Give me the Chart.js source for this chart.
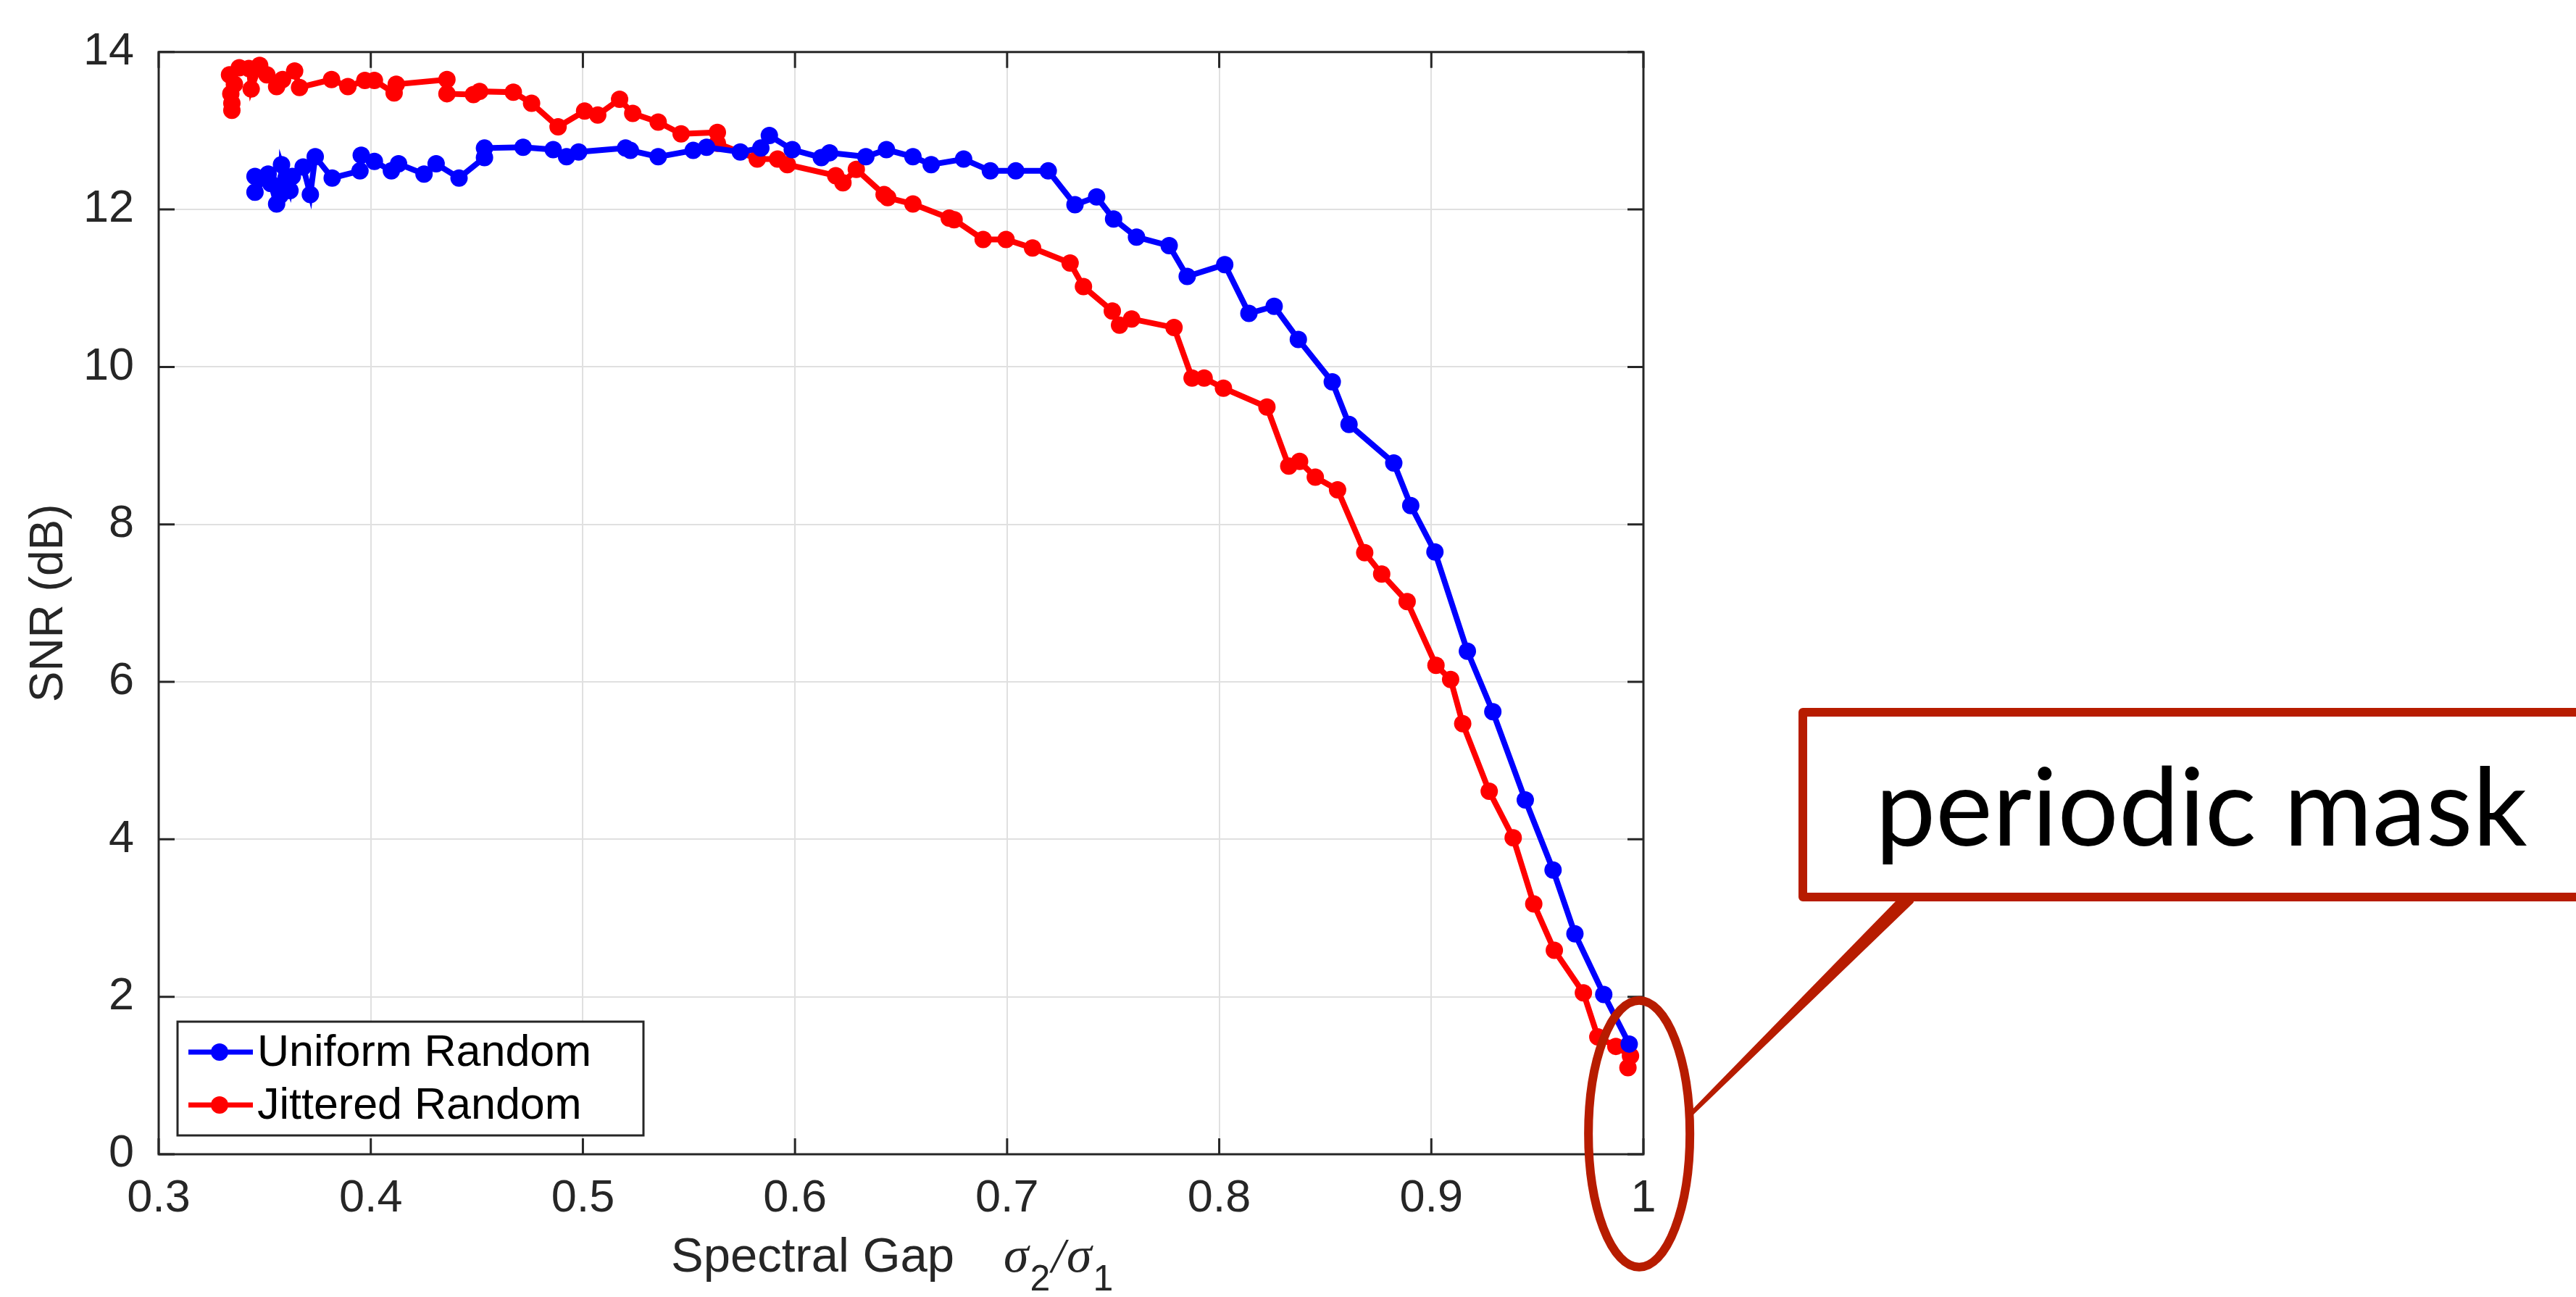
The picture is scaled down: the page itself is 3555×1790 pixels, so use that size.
<!DOCTYPE html>
<html>
<head>
<meta charset="utf-8">
<title>SNR vs Spectral Gap</title>
<script src="https://cdn.jsdelivr.net/npm/chart.js@4.4.0/dist/chart.umd.min.js"></script>
<style>
body{margin:0;background:#fff;}
#contenedor{width:3555px;height:1790px;position:relative;}
</style>
</head>
<body>
<div id="contenedor"><canvas id="myChart"></canvas></div>
<script>
//-------------datos-----------------//
const uniformGap = [0.3454,0.3454,0.3516,0.3528,0.3556,0.3573,0.3579,0.3600,0.3619,0.3630,0.3681,0.3715,0.3738,0.3818,0.3949,0.3955,0.4017,0.4097,0.4131,0.4251,0.4308,0.4416,0.4536,0.4536,0.4718,0.4860,0.4923,0.4980,0.5201,0.5224,0.5355,0.5520,0.5583,0.5742,0.5839,0.5879,0.5987,0.6124,0.6163,0.6334,0.6431,0.6556,0.6642,0.6795,0.6921,0.7041,0.7194,0.7320,0.7422,0.7502,0.7610,0.7764,0.7849,0.8026,0.8140,0.8259,0.8373,0.8533,0.8612,0.8823,0.8903,0.9017,0.9170,0.9290,0.9443,0.9574,0.9677,0.9813,0.9933];
const uniformSnr = [12.42,12.22,12.45,12.33,12.07,12.18,12.57,12.40,12.24,12.42,12.54,12.19,12.67,12.40,12.49,12.69,12.61,12.49,12.58,12.45,12.58,12.40,12.66,12.78,12.79,12.76,12.67,12.73,12.78,12.75,12.67,12.75,12.79,12.73,12.78,12.94,12.76,12.66,12.72,12.67,12.76,12.67,12.57,12.64,12.49,12.49,12.49,12.06,12.16,11.88,11.65,11.54,11.15,11.30,10.68,10.77,10.35,9.81,9.27,8.78,8.24,7.65,6.39,5.62,4.50,3.61,2.80,2.03,1.40];

const jitteredGap = [0.3345,0.3345,0.3340,0.3357,0.3334,0.3380,0.3425,0.3436,0.3476,0.3510,0.3556,0.3584,0.3641,0.3664,0.3815,0.3892,0.3972,0.4017,0.4110,0.4120,0.4359,0.4359,0.4484,0.4513,0.4672,0.4758,0.4883,0.5008,0.5070,0.5173,0.5235,0.5355,0.5463,0.5634,0.5634,0.5822,0.5918,0.5964,0.6192,0.6226,0.6289,0.6420,0.6437,0.6556,0.6727,0.6750,0.6887,0.6995,0.7120,0.7297,0.7360,0.7496,0.7530,0.7587,0.7787,0.7872,0.7929,0.8020,0.8225,0.8328,0.8379,0.8453,0.8558,0.8686,0.8766,0.8886,0.9022,0.9091,0.9148,0.9273,0.9386,0.9483,0.9580,0.9717,0.9785,0.9870,0.9939,0.9927];
const jitteredSnr = [13.26,13.35,13.47,13.59,13.71,13.80,13.79,13.53,13.83,13.71,13.56,13.65,13.76,13.55,13.65,13.56,13.64,13.64,13.48,13.59,13.65,13.47,13.46,13.50,13.49,13.35,13.05,13.25,13.20,13.40,13.22,13.11,12.96,12.98,12.84,12.64,12.64,12.57,12.43,12.34,12.51,12.19,12.15,12.07,11.89,11.87,11.62,11.62,11.51,11.32,11.02,10.71,10.53,10.61,10.50,9.86,9.86,9.73,9.49,8.74,8.80,8.60,8.44,7.64,7.37,7.02,6.21,6.03,5.47,4.61,4.02,3.18,2.59,2.05,1.49,1.37,1.25,1.10];

const xTicks = [0.3,0.4,0.5,0.6,0.7,0.8,0.9,1];
const yTicks = [0,2,4,6,8,10,12,14];
const serieNames = ['Uniform Random','Jittered Random'];
const xLabel = 'Spectral Gap';
const yLabel = 'SNR (dB)';
const noteText = 'periodic mask';
//-----------------------------------//

const FUENTE = '"Liberation Sans", Arial, Helvetica, sans-serif';
const GRIS = '#262626';
Chart.defaults.font.family = FUENTE;
Chart.defaults.color = GRIS;

function armaPuntos(xs, ys){
	var pts = [];
	for (var i = 0; i < xs.length; i++) {
		pts.push({x: xs[i], y: ys[i]});
	}
	return pts;
}

// caja de ejes y marcas hacia dentro (estilo matlab)
function dibujaEjes(chart){
	const ctx = chart.ctx;
	const a = chart.chartArea;
	const sx = chart.scales.x, sy = chart.scales.y;
	const largo = 22;
	ctx.save();
	ctx.strokeStyle = GRIS;
	ctx.lineWidth = 3;
	ctx.beginPath();
	for (var i in xTicks) {
		var px = sx.getPixelForValue(xTicks[i]);
		ctx.moveTo(px, a.bottom); ctx.lineTo(px, a.bottom - largo);
		ctx.moveTo(px, a.top); ctx.lineTo(px, a.top + largo);
	}
	for (var k in yTicks) {
		var py = sy.getPixelForValue(yTicks[k]);
		ctx.moveTo(a.left, py); ctx.lineTo(a.left + largo, py);
		ctx.moveTo(a.right, py); ctx.lineTo(a.right - largo, py);
	}
	ctx.stroke();
	ctx.strokeRect(a.left, a.top, a.right - a.left, a.bottom - a.top);
	ctx.restore();
}

function dibujaLeyenda(chart){
	const ctx = chart.ctx;
	const x0 = 245, y0 = 1410, w = 643, h = 157;
	ctx.save();
	ctx.fillStyle = '#fff';
	ctx.fillRect(x0, y0, w, h);
	ctx.strokeStyle = GRIS;
	ctx.lineWidth = 3;
	ctx.strokeRect(x0, y0, w, h);
	chart.data.datasets.forEach(function(ds, i){
		var yy = y0 + 42 + i * 73;
		ctx.strokeStyle = ds.borderColor;
		ctx.lineWidth = 7;
		ctx.beginPath(); ctx.moveTo(x0 + 15, yy); ctx.lineTo(x0 + 104, yy); ctx.stroke();
		ctx.fillStyle = ds.borderColor;
		ctx.beginPath(); ctx.arc(x0 + 58, yy, 12, 0, Math.PI * 2); ctx.fill();
		ctx.fillStyle = '#000';
		ctx.font = '61px ' + FUENTE;
		ctx.textBaseline = 'middle';
		ctx.fillText(ds.label, x0 + 110, yy + 2);
	});
	ctx.restore();
}

// etiqueta x con sigma_2/sigma_1
function dibujaEtiquetaX(chart){
	const ctx = chart.ctx;
	const base = 1755;
	ctx.save();
	ctx.fillStyle = GRIS;
	ctx.textBaseline = 'alphabetic';
	ctx.font = '67px ' + FUENTE;
	ctx.fillText(xLabel, 926, base);
	var partes = [
		['\u03c3', 'italic 70px "Liberation Serif", serif', 0],
		['2', '50px ' + FUENTE, 26],
		['/', 'italic 67px "Liberation Serif", serif', 0],
		['\u03c3', 'italic 70px "Liberation Serif", serif', 0],
		['1', '50px ' + FUENTE, 26]
	];
	var x = 1385;
	for (var p in partes) {
		ctx.font = partes[p][1];
		ctx.fillText(partes[p][0], x, base + partes[p][2]);
		x += ctx.measureText(partes[p][0]).width + 2;
	}
	ctx.restore();
}

// globo "periodic mask" y elipse sobre la mascara periodica
function dibujaNota(chart){
	const ctx = chart.ctx;
	const cx = chart.scales.x.getPixelForValue(0.998);
	const cy = chart.scales.y.getPixelForValue(0.26);
	const rojo = '#b71c00';
	ctx.save();
	ctx.strokeStyle = rojo;
	ctx.fillStyle = rojo;
	ctx.lineWidth = 12;
	ctx.beginPath();
	ctx.ellipse(cx, cy, 70, 184, 0, 0, Math.PI * 2);
	ctx.stroke();

	// cola del globo (cuña fina)
	ctx.lineWidth = 6;
	ctx.lineJoin = 'round';
	ctx.beginPath();
	ctx.moveTo(2620, 1244);
	ctx.lineTo(2638, 1244);
	ctx.lineTo(cx + 70, cy - 26);
	ctx.closePath();
	ctx.fill();
	ctx.stroke();

	ctx.lineWidth = 12;
	ctx.fillStyle = '#fff';
	ctx.fillRect(2488, 983, 1200, 255);
	ctx.strokeRect(2488, 983, 1200, 255);

	ctx.fillStyle = '#000';
	ctx.textBaseline = 'alphabetic';
	var tam = 160;
	ctx.font = tam + 'px Lato, "Open Sans", sans-serif';
	var ancho = ctx.measureText(noteText).width;
	tam = tam * 900 / ancho;
	ctx.font = tam + 'px Lato, "Open Sans", sans-serif';
	ctx.fillText(noteText, 2588, 1167);
	ctx.restore();
}

const pluginMatlab = {
	id: 'matlab',
	afterDatasetsDraw: function(chart){
		dibujaEjes(chart);
	},
	afterDraw: function(chart){
		dibujaLeyenda(chart);
		dibujaEtiquetaX(chart);
		dibujaNota(chart);
	}
};

function creargraf(){
	const ctx = document.getElementById('myChart').getContext('2d');
	const myChart = new Chart(ctx, {
		type: 'line',
		data: {
			datasets: [{
				label: serieNames[0],
				data: armaPuntos(uniformGap, uniformSnr),
				borderColor: '#0000ff',
				backgroundColor: '#0000ff',
				borderWidth: 8,
				pointRadius: 12,
				pointBorderWidth: 0,
				pointBackgroundColor: '#0000ff'
			},{
				label: serieNames[1],
				data: armaPuntos(jitteredGap, jitteredSnr),
				borderColor: '#ff0000',
				backgroundColor: '#ff0000',
				borderWidth: 8,
				pointRadius: 12,
				pointBorderWidth: 0,
				pointBackgroundColor: '#ff0000'
			}]
		},
		options: {
			responsive: true,
			maintainAspectRatio: false,
			animation: false,
			devicePixelRatio: 1,
			layout: {padding: {left: 0, top: 45, right: 1287, bottom: 0}},
			elements: {line: {tension: 0}},
			plugins: {
				legend: {display: false},
				tooltip: {enabled: false}
			},
			scales: {
				x: {
					type: 'linear',
					min: 0.3,
					max: 1,
					afterBuildTicks: function(s){ s.ticks = xTicks.map(function(v){ return {value: v}; }); },
					afterFit: function(s){ s.height = 197; },
					grid: {color: '#e0e0e0', lineWidth: 2, drawTicks: false},
					border: {display: false},
					ticks: {
						font: {size: 63},
						color: GRIS,
						padding: 24,
						maxRotation: 0,
						callback: function(v){ return String(v); }
					}
				},
				y: {
					type: 'linear',
					min: 0,
					max: 14,
					afterBuildTicks: function(s){ s.ticks = yTicks.map(function(v){ return {value: v}; }); },
					afterFit: function(s){ s.width = 219; },
					grid: {color: '#e0e0e0', lineWidth: 2, drawTicks: false},
					border: {display: false},
					ticks: {
						font: {size: 63},
						color: GRIS,
						padding: 34,
						callback: function(v){ return String(v); }
					},
					title: {
						display: true,
						text: yLabel,
						font: {size: 64},
						color: GRIS,
						padding: {top: 30, bottom: 0}
					}
				}
			}
		},
		plugins: [pluginMatlab]
	});
	return myChart;
}

window.onload = function(){
	creargraf();
};
</script>
</body>
</html>
